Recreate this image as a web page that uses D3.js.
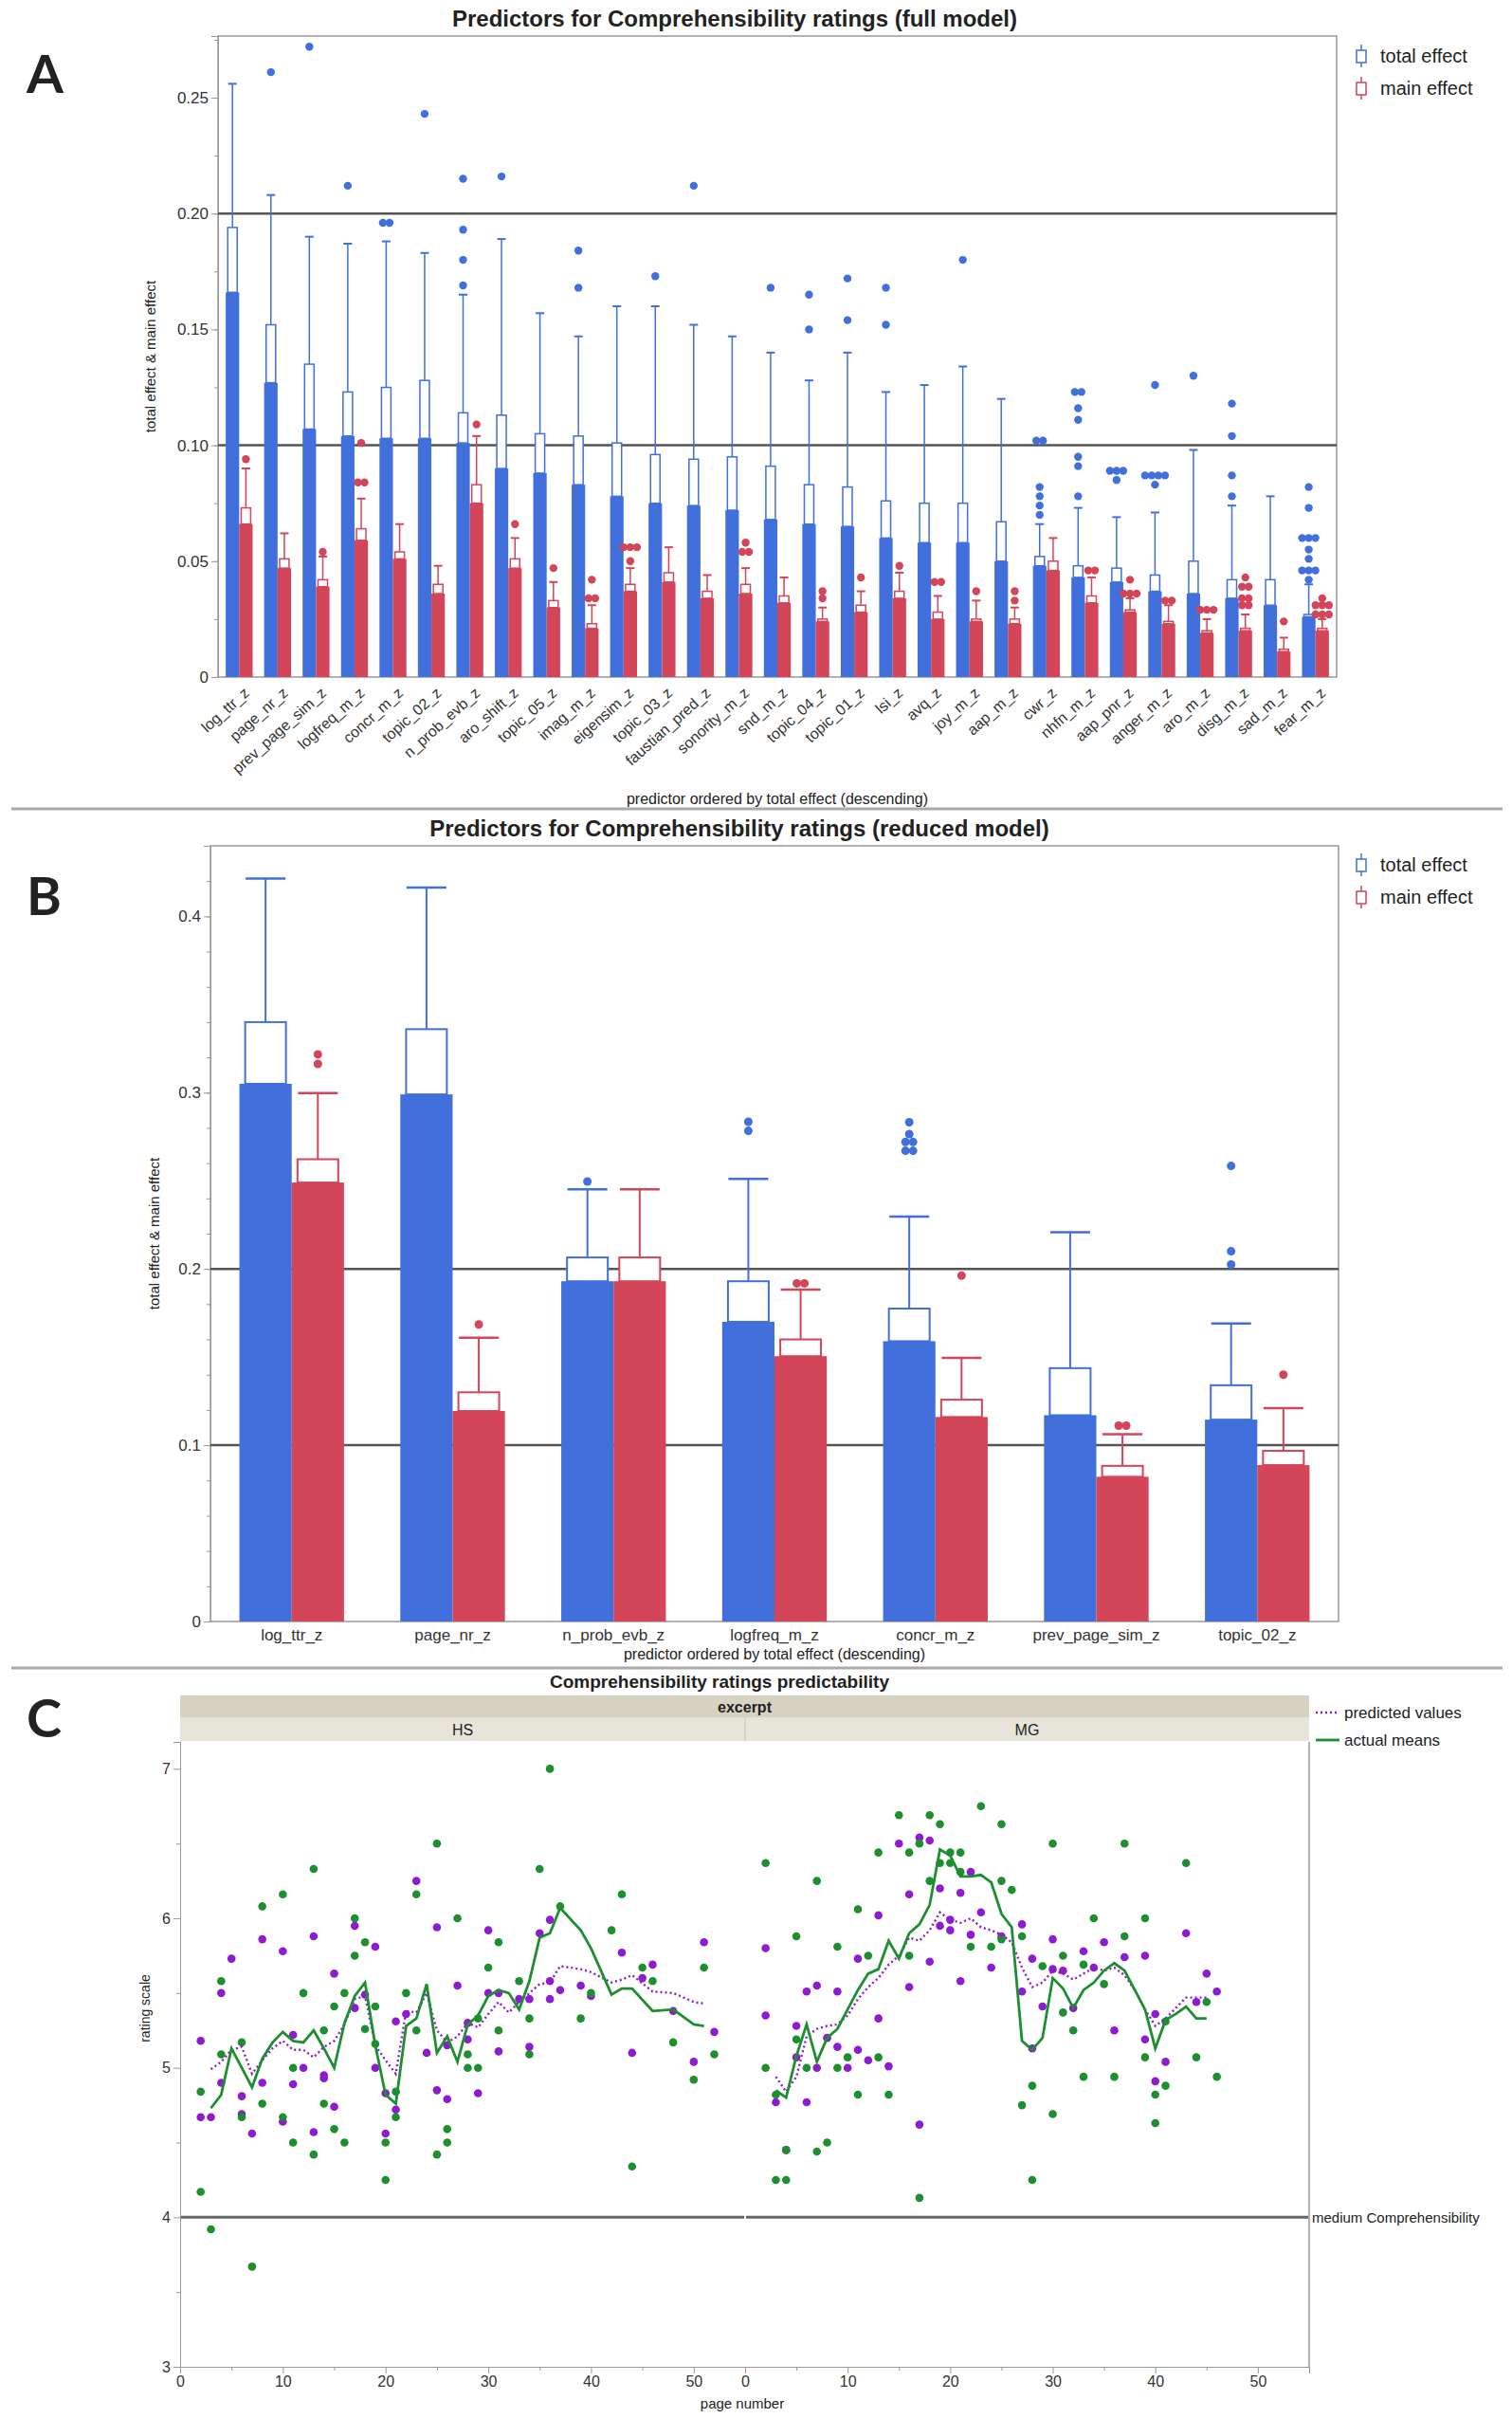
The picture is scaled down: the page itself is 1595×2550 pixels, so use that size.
<!DOCTYPE html>
<html>
<head>
<meta charset="utf-8">
<script src="https://cdn.jsdelivr.net/npm/d3@7"></script>
<style>
  body { margin: 0; background: #fff; }
  text { font-family: "Liberation Sans", Arial, sans-serif; fill: #222; }
  .axis path, .axis line { stroke: #999; }
  .axis text { fill: #333; font-family: "Liberation Sans", Arial, sans-serif; }
</style>
</head>
<body>
<svg id="chart" width="1595" height="2550"></svg>
<script>
// ---------- A: full model ----------
var predictorsA = ['log_ttr_z', 'page_nr_z', 'prev_page_sim_z', 'logfreq_m_z', 'concr_m_z', 'topic_02_z',
  'n_prob_evb_z', 'aro_shift_z', 'topic_05_z', 'imag_m_z', 'eigensim_z', 'topic_03_z', 'faustian_pred_z',
  'sonority_m_z', 'snd_m_z', 'topic_04_z', 'topic_01_z', 'lsi_z', 'avq_z', 'joy_m_z', 'aap_m_z', 'cwr_z',
  'nhfn_m_z', 'aap_pnr_z', 'anger_m_z', 'aro_m_z', 'disg_m_z', 'sad_m_z', 'fear_m_z'];
var totalBarA = [0.166, 0.127, 0.107, 0.104, 0.103, 0.103, 0.101, 0.090, 0.088, 0.083, 0.078, 0.075, 0.074,
  0.072, 0.068, 0.066, 0.065, 0.060, 0.058, 0.058, 0.050, 0.048, 0.043, 0.041, 0.037, 0.036, 0.034, 0.031, 0.026];
var totalBoxA = [0.194, 0.152, 0.135, 0.123, 0.125, 0.128, 0.114, 0.113, 0.105, 0.104, 0.101, 0.096, 0.094,
  0.095, 0.091, 0.083, 0.082, 0.076, 0.075, 0.075, 0.067, 0.052, 0.048, 0.047, 0.044, 0.050, 0.042, 0.042, 0.027];
var totalWhiskA = [0.256, 0.208, 0.190, 0.187, 0.188, 0.183, 0.165, 0.189, 0.157, 0.147, 0.160, 0.160, 0.152,
  0.147, 0.140, 0.128, 0.140, 0.123, 0.126, 0.134, 0.120, 0.066, 0.073, 0.069, 0.071, 0.098, 0.074, 0.078, 0.040];
var totalOutA = [[], [0.261], [0.272], [0.212], [0.196, 0.196], [0.243], [0.169, 0.180, 0.193, 0.215], [0.216],
  [], [0.168, 0.184], [], [0.173], [0.212], [], [0.168], [0.150, 0.165], [0.154, 0.172], [0.152, 0.168], [],
  [0.180], [], [0.070, 0.074, 0.078, 0.082, 0.102, 0.102], [0.078, 0.091, 0.095, 0.111, 0.116, 0.123, 0.123],
  [0.085, 0.089, 0.089, 0.089], [0.083, 0.087, 0.087, 0.087, 0.087, 0.126], [0.130], [0.078, 0.087, 0.104, 0.118],
  [], [0.042, 0.046, 0.046, 0.046, 0.051, 0.055, 0.060, 0.060, 0.060, 0.073, 0.082]];
var mainBarA = [0.066, 0.047, 0.039, 0.059, 0.051, 0.036, 0.075, 0.047, 0.030, 0.021, 0.037, 0.041, 0.034,
  0.036, 0.032, 0.024, 0.028, 0.034, 0.025, 0.024, 0.023, 0.046, 0.032, 0.028, 0.023, 0.019, 0.020, 0.011, 0.020];
var mainBoxA = [0.073, 0.051, 0.042, 0.064, 0.054, 0.040, 0.083, 0.051, 0.033, 0.023, 0.040, 0.045, 0.037,
  0.040, 0.035, 0.025, 0.031, 0.037, 0.028, 0.025, 0.025, 0.050, 0.035, 0.029, 0.024, 0.020, 0.021, 0.012, 0.021];
var mainWhiskA = [0.090, 0.062, 0.052, 0.077, 0.066, 0.048, 0.104, 0.060, 0.041, 0.031, 0.047, 0.056, 0.044,
  0.047, 0.043, 0.030, 0.037, 0.045, 0.035, 0.033, 0.030, 0.060, 0.043, 0.034, 0.031, 0.025, 0.027, 0.017, 0.025];
var mainOutA = [[0.094], [], [0.054], [0.084, 0.084, 0.101], [], [], [0.109], [0.066], [0.047],
  [0.034, 0.034, 0.042], [0.050, 0.056, 0.056, 0.056], [], [], [0.054, 0.054, 0.058], [], [0.034, 0.037], [0.043],
  [0.048], [0.041, 0.041], [0.037], [0.033, 0.037], [], [0.046, 0.046], [0.036, 0.036, 0.036, 0.042],
  [0.033, 0.033], [0.029, 0.029, 0.029], [0.031, 0.031, 0.034, 0.034, 0.039, 0.039, 0.043], [0.024],
  [0.027, 0.027, 0.027, 0.031, 0.031, 0.031, 0.034]];
var ticksA = [0, 0.05, 0.10, 0.15, 0.20, 0.25];

// ---------- B: reduced model ----------
var predictorsB = ['log_ttr_z', 'page_nr_z', 'n_prob_evb_z', 'logfreq_m_z', 'concr_m_z', 'prev_page_sim_z', 'topic_02_z'];
var totalBarB = [0.305, 0.299, 0.193, 0.170, 0.159, 0.117, 0.1145];
var totalBoxB = [0.340, 0.336, 0.2065, 0.193, 0.1775, 0.1437, 0.134];
var totalWhiskB = [0.4215, 0.4163, 0.2452, 0.251, 0.2297, 0.2208, 0.169];
var totalOutB = [[], [], [0.2496], [0.2783, 0.2835], [0.267, 0.267, 0.272, 0.272, 0.2765, 0.2832], [], [0.2025, 0.210, 0.2584]];
var mainBarB = [0.249, 0.1194, 0.193, 0.1505, 0.116, 0.0821, 0.0887];
var mainBoxB = [0.2622, 0.130, 0.2065, 0.160, 0.1258, 0.0883, 0.0968];
var mainWhiskB = [0.2998, 0.161, 0.2452, 0.1882, 0.1496, 0.1063, 0.121];
var mainOutB = [[0.3163, 0.3217], [0.1685], [], [0.1918, 0.1918], [0.1962], [0.1111, 0.1111], [0.140]];
var ticksB = [0, 0.1, 0.2, 0.3, 0.4];

// ---------- C: predictability ----------
var hsPredPoints = [[2,5.18],[2,4.67],[3,4.67],[4,5.5],[4,4.9],[5,5.73],[6,4.81],[6,4.69],[7,4.56],[8,5.86],[8,4.9],
  [10,5.78],[10,4.64],[11,5.22],[11,4.89],[12,5.0],[13,5.88],[13,4.57],[14,4.95],[14,4.93],[15,5.63],[15,4.74],
  [17,5.95],[17,5.4],[18,5.49],[19,5.81],[19,5.0],[20,4.83],[20,4.56],[21,5.31],[21,4.72],[22,5.36],[23,6.25],
  [24,5.1],[25,5.94],[25,4.85],[26,5.15],[26,4.79],[27,5.55],[28,5.3],[28,5.19],[29,4.83],[30,5.92],[30,5.5],
  [31,5.5],[31,5.11],[33,5.46],[34,5.46],[34,5.14],[35,5.9],[36,5.99],[36,5.58],[36,5.46],[37,5.52],[39,5.55],
  [40,5.48],[43,5.77],[44,5.1],[45,5.6],[46,5.69],[48,5.38],[50,5.04],[51,5.84],[52,5.24]];
var hsActPoints = [[2,4.84],[2,4.17],[3,3.92],[4,5.58],[4,5.09],[6,5.17],[6,4.67],[7,3.67],[8,6.08],[8,4.76],
  [10,6.16],[10,4.67],[11,5.0],[11,4.5],[12,5.5],[13,6.33],[13,4.42],[14,5.25],[14,4.76],[15,5.41],[15,4.59],
  [16,5.5],[16,4.5],[17,6.0],[17,5.75],[18,5.84],[18,5.26],[19,5.41],[19,5.16],[20,4.5],[20,4.25],[21,4.84],
  [21,4.67],[22,5.5],[23,6.16],[23,5.25],[25,6.5],[25,4.42],[26,4.59],[26,4.5],[27,6.0],[28,5.09],[28,5.0],
  [29,5.33],[29,5.0],[30,5.67],[31,5.84],[31,5.25],[33,5.58],[34,5.33],[34,5.09],[35,6.33],[36,7.0],[37,6.08],
  [39,5.33],[40,5.5],[42,5.92],[43,6.16],[44,4.34],[45,5.67],[46,5.58],[48,5.17],[50,4.92],[51,5.67],[52,5.09]];
var hsLinePages = [3,4,5,6,7,8,9,10,11,12,13,14,15,16,17,18,19,20,21,22,23,24,25,26,27,28,29,30,31,32,33,34,35,36,37,39,40,42,43,44,46,48,50,51];
var hsPredLine = [4.99,5.04,5.12,5.14,4.96,5.05,5.13,5.18,5.12,5.12,5.07,5.14,5.18,5.29,5.46,5.48,5.15,5.05,4.96,5.38,
  5.37,5.5,5.25,5.17,5.21,5.3,5.27,5.36,5.44,5.37,5.44,5.5,5.56,5.57,5.68,5.66,5.64,5.57,5.59,5.62,5.51,5.5,5.44,5.43];
var hsActLine = [4.73,4.82,5.13,5.0,4.87,5.06,5.17,5.24,5.18,5.17,5.25,5.13,5.0,5.3,5.48,5.57,5.15,4.82,4.76,5.28,
  5.33,5.56,5.1,5.21,5.04,5.29,5.35,5.48,5.52,5.5,5.39,5.58,5.87,5.9,6.07,5.92,5.8,5.49,5.53,5.53,5.38,5.39,5.29,5.28];
var mgPredPoints = [[2,5.8],[2,5.35],[3,4.77],[4,4.45],[5,5.28],[5,5.07],[6,5.51],[6,4.77],[7,5.55],[7,5.0],[8,5.2],
  [9,5.51],[9,5.14],[10,5.0],[11,5.73],[11,5.12],[12,5.05],[13,6.02],[13,5.33],[14,5.01],[15,6.5],[16,6.16],
  [16,5.54],[17,6.54],[17,4.62],[18,6.52],[18,5.71],[19,6.2],[19,5.95],[20,5.99],[20,5.92],[21,6.17],[21,5.58],
  [22,6.31],[22,5.89],[23,6.04],[24,5.67],[25,5.88],[27,5.96],[27,5.51],[28,5.73],[28,5.13],[29,5.41],[30,5.86],
  [30,5.66],[31,5.65],[32,5.4],[33,5.78],[34,5.67],[35,5.84],[36,5.25],[37,5.74],[39,5.75],[39,5.19],[40,5.36],
  [40,4.91],[41,5.04],[43,5.9],[44,5.44],[45,5.63],[46,5.51]];
var mgActPoints = [[2,6.37],[2,5.0],[3,4.82],[3,4.25],[4,4.45],[4,4.25],[5,5.88],[5,5.19],[6,5.0],[7,6.25],[7,4.44],
  [8,4.5],[9,5.81],[9,5.0],[10,5.07],[11,6.06],[11,4.82],[12,5.75],[13,6.44],[13,5.07],[14,4.82],[15,6.69],
  [16,6.44],[16,5.75],[17,6.5],[17,4.13],[18,6.69],[18,6.25],[19,6.63],[19,6.37],[20,6.44],[20,6.37],[21,6.44],
  [21,6.31],[22,5.81],[23,6.75],[24,5.81],[25,6.63],[25,6.25],[25,5.86],[26,6.19],[27,5.88],[27,4.75],[28,4.88],
  [28,4.25],[29,5.68],[30,6.5],[30,4.69],[31,5.75],[31,5.37],[32,5.25],[33,5.69],[33,4.94],[34,6.0],[35,5.56],
  [36,4.94],[37,6.5],[37,5.88],[39,6.0],[39,5.07],[40,4.82],[40,4.63],[41,5.31],[41,4.88],[43,6.37],[44,5.07],
  [45,5.44],[46,4.94]];
var mgLinePages = [3,4,5,6,7,8,9,10,11,12,13,14,15,16,17,18,19,20,21,22,23,24,25,26,27,28,29,30,31,32,33,34,35,36,37,38,39,40,41,42,43,44,45];
var mgPredLine = [4.94,4.84,4.94,5.21,5.26,5.28,5.29,5.35,5.46,5.54,5.6,5.69,5.75,5.87,5.85,5.92,6.04,5.99,5.97,6.0,
  5.94,5.92,5.89,5.84,5.67,5.54,5.57,5.65,5.63,5.59,5.63,5.67,5.65,5.67,5.62,5.52,5.39,5.28,5.33,5.4,5.47,5.47,5.47];
var mgActLine = [4.85,4.8,5.08,5.29,5.04,5.2,5.26,5.39,5.52,5.63,5.66,5.85,5.73,5.9,5.96,6.09,6.46,6.42,6.28,6.28,
  6.29,6.24,6.03,5.94,5.18,5.12,5.2,5.6,5.53,5.4,5.52,5.57,5.65,5.7,5.65,5.52,5.39,5.13,5.32,5.36,5.41,5.33,5.33];
var excerpts = ['HS', 'MG'];
var ticksC = [3, 4, 5, 6, 7];
var pageTicks = [0, 10, 20, 30, 40, 50];

var BLUE = '#416fdb', RED = '#d34558', PURPLE = '#8d1bd0', GREEN = '#1d8f2f';
var svg = d3.select('#chart');

// separators and panel letters
svg.selectAll('line.sep').data([853, 1759]).enter().append('line')
  .attr('x1', 12).attr('x2', 1585).attr('y1', d => d).attr('y2', d => d)
  .attr('stroke', '#aaa').attr('stroke-width', 3);
svg.selectAll('text.letter').data([['A', 98], ['B', 965], ['C', 1832]]).enter().append('text')
  .attr('x', 28).attr('y', d => d[1]).text(d => d[0])
  .style('font-family', 'Lato, "Open Sans", sans-serif').style('font-weight', 'bold').style('font-size', '56px');

function spread(vals) {
  // identical outlier values sit side by side
  var seen = {};
  var counts = {};
  vals.forEach(v => { counts[v] = (counts[v] || 0) + 1; });
  return vals.map(v => {
    var k = seen[v] || 0;
    seen[v] = k + 1;
    return { v: v, off: k - (counts[v] - 1) / 2 };
  });
}

function effectPanel(o) {
  var g = svg.append('g');
  var x = d3.scaleBand().domain(o.names).range([o.left, o.right])
    .paddingInner(o.padIn).paddingOuter(o.padOut);
  var sub = d3.scaleBand().domain([0, 1]).range([0, x.bandwidth()]);
  var y = d3.scaleLinear().domain([0, o.max]).range([o.bottom, o.top]);

  g.append('text').attr('x', o.titleX).attr('y', o.titleY).attr('text-anchor', 'middle')
    .style('font-size', '24px').style('font-weight', 'bold').text(o.title);

  // minor + major y ticks
  g.append('g').attr('class', 'axis').attr('transform', 'translate(' + o.left + ',0)')
    .call(d3.axisLeft(y).tickValues(d3.range(0, o.max, o.minor)).tickSize(4).tickFormat(''));
  g.append('g').attr('class', 'axis').attr('transform', 'translate(' + o.left + ',0)')
    .call(d3.axisLeft(y).tickValues(o.ticks).tickSize(7).tickFormat(o.fmt))
    .selectAll('text').style('font-size', '17px');

  g.append('rect').attr('x', o.left).attr('y', o.top).attr('width', o.right - o.left)
    .attr('height', o.bottom - o.top).attr('fill', 'none').attr('stroke', '#999').attr('stroke-width', 1.5);

  g.selectAll('line.ref').data(o.refs).enter().append('line')
    .attr('x1', o.left).attr('x2', o.right).attr('y1', d => y(d)).attr('y2', d => y(d))
    .attr('stroke', '#555').attr('stroke-width', 2.5);

  var bw = sub.bandwidth();
  o.series.forEach(function(s, si) {
    var cx = d => x(d) + sub(si) + bw / 2;
    var sg = g.append('g');
    sg.selectAll('line.wh').data(o.names).enter().append('line')
      .attr('x1', cx).attr('x2', cx)
      .attr('y1', (d, i) => y(s.box[i])).attr('y2', (d, i) => y(s.whisk[i]))
      .attr('stroke', s.color).attr('stroke-width', o.lw);
    sg.selectAll('line.cap').data(o.names).enter().append('line')
      .attr('x1', d => cx(d) - o.capW / 2).attr('x2', d => cx(d) + o.capW / 2)
      .attr('y1', (d, i) => y(s.whisk[i])).attr('y2', (d, i) => y(s.whisk[i]))
      .attr('stroke', s.color).attr('stroke-width', o.lw + 0.5);
    sg.selectAll('rect.bar').data(o.names).enter().append('rect')
      .attr('x', d => x(d) + sub(si)).attr('width', bw)
      .attr('y', (d, i) => y(s.bar[i])).attr('height', (d, i) => y(0) - y(s.bar[i]))
      .attr('fill', s.color);
    sg.selectAll('rect.box').data(o.names).enter().append('rect')
      .attr('x', d => cx(d) - o.boxW / 2).attr('width', o.boxW)
      .attr('y', (d, i) => y(s.box[i])).attr('height', (d, i) => y(s.bar[i]) - y(s.box[i]))
      .attr('fill', '#fff').attr('stroke', s.color).attr('stroke-width', o.lw);
    o.names.forEach(function(d, i) {
      sg.selectAll(null).data(spread(s.out[i])).enter().append('circle')
        .attr('cx', p => cx(d) + p.off * o.dotGap).attr('cy', p => y(p.v))
        .attr('r', o.r).attr('fill', s.color);
    });
  });

  // category axis
  var xa = g.append('g').attr('class', 'axis').attr('transform', 'translate(0,' + o.bottom + ')')
    .call(d3.axisBottom(x).tickSize(0).tickPadding(8));
  xa.select('.domain').remove();
  xa.selectAll('text').style('font-size', '17px');
  if (o.rotate) {
    xa.selectAll('text').attr('y', 0).attr('dy', '0.35em').style('text-anchor', 'end')
      .attr('transform', 'translate(8,14) rotate(-42)').style('font-size', '16px');
  }

  g.append('text').attr('x', (o.left + o.right) / 2).attr('y', o.xLabelY).attr('text-anchor', 'middle')
    .style('font-size', '16px').text('predictor ordered by total effect (descending)');
  g.append('text').attr('transform', 'translate(' + o.yLabelX + ',' + ((o.top + o.bottom) / 2) + ') rotate(-90)')
    .attr('text-anchor', 'middle').style('font-size', '15px').text('total effect & main effect');

  // legend
  var lg = g.append('g').attr('transform', 'translate(1436,' + o.legendY + ')');
  [['total effect', BLUE], ['main effect', RED]].forEach(function(l, i) {
    var row = lg.append('g').attr('transform', 'translate(0,' + i * 34 + ')');
    row.append('line').attr('x1', 0).attr('x2', 0).attr('y1', -12).attr('y2', 12)
      .attr('stroke', l[1]).attr('stroke-width', 1.5);
    row.append('rect').attr('x', -5).attr('y', -6).attr('width', 10).attr('height', 13)
      .attr('fill', '#fff').attr('stroke', l[1]).attr('stroke-width', 1.5);
    row.append('text').attr('x', 20).attr('y', 0).attr('dy', '0.35em')
      .style('font-size', '20px').text(l[0]);
  });
}

effectPanel({
  names: predictorsA, left: 230, right: 1410, top: 38, bottom: 714, max: 0.2766,
  padIn: 0.3, padOut: 0.2, minor: 0.025, ticks: ticksA,
  fmt: d => d === 0 ? '0' : d3.format('.2f')(d), refs: [0.1, 0.2],
  series: [
    { color: BLUE, bar: totalBarA, box: totalBoxA, whisk: totalWhiskA, out: totalOutA },
    { color: RED, bar: mainBarA, box: mainBoxA, whisk: mainWhiskA, out: mainOutA }
  ],
  lw: 1.5, capW: 9, boxW: 10, r: 4.2, dotGap: 7, rotate: true,
  title: 'Predictors for Comprehensibility ratings (full model)', titleX: 775, titleY: 28,
  xLabelY: 848, yLabelX: 164, legendY: 59
});

effectPanel({
  names: predictorsB, left: 222, right: 1412, top: 892, bottom: 1710, max: 0.44,
  padIn: 0.35, padOut: 0.18, minor: 0.02, ticks: ticksB,
  fmt: d => d === 0 ? '0' : d3.format('.1f')(d), refs: [0.1, 0.2],
  series: [
    { color: BLUE, bar: totalBarB, box: totalBoxB, whisk: totalWhiskB, out: totalOutB },
    { color: RED, bar: mainBarB, box: mainBoxB, whisk: mainWhiskB, out: mainOutB }
  ],
  lw: 2, capW: 42, boxW: 43, r: 4.5, dotGap: 8, rotate: false,
  title: 'Predictors for Comprehensibility ratings (reduced model)', titleX: 780, titleY: 882,
  xLabelY: 1750, yLabelX: 168, legendY: 912
});

// ---------- panel C ----------
(function() {
  var left = 190, mid = 786, right = 1381, top = 1837, bottom = 2496;
  var g = svg.append('g');
  var y = d3.scaleLinear().domain([3, 7.18]).range([bottom, top]);
  var xs = {
    HS: d3.scaleLinear().domain([0, 55]).range([left, mid]),
    MG: d3.scaleLinear().domain([0, 55]).range([mid, right])
  };

  g.append('text').attr('x', 759).attr('y', 1780).attr('text-anchor', 'middle')
    .style('font-size', '19px').style('font-weight', 'bold').text('Comprehensibility ratings predictability');

  g.append('rect').attr('x', left).attr('y', 1788).attr('width', right - left).attr('height', 23).attr('fill', '#d6d3c3');
  g.append('rect').attr('x', left).attr('y', 1811).attr('width', right - left).attr('height', 25).attr('fill', '#e7e5da');
  g.append('line').attr('x1', mid).attr('x2', mid).attr('y1', 1811).attr('y2', 1836).attr('stroke', '#c4c2b4');
  g.append('text').attr('x', (left + right) / 2).attr('y', 1800).attr('dy', '0.35em').attr('text-anchor', 'middle')
    .style('font-size', '16px').style('font-weight', 'bold').text('excerpt');
  excerpts.forEach(function(e) {
    g.append('text').attr('x', (xs[e].range()[0] + xs[e].range()[1]) / 2).attr('y', 1824).attr('dy', '0.35em')
      .attr('text-anchor', 'middle').style('font-size', '16px').text(e);
  });

  g.append('g').attr('class', 'axis').attr('transform', 'translate(' + left + ',0)')
    .call(d3.axisLeft(y).tickValues([3.5, 4.5, 5.5, 6.5]).tickSize(4).tickFormat(''));
  g.append('g').attr('class', 'axis').attr('transform', 'translate(' + left + ',0)')
    .call(d3.axisLeft(y).tickValues(ticksC).tickSize(7).tickFormat(d3.format('d')))
    .selectAll('text').style('font-size', '16px');
  g.append('line').attr('x1', right).attr('x2', right).attr('y1', top).attr('y2', bottom)
    .attr('stroke', '#999').attr('stroke-width', 1.5);

  excerpts.forEach(function(e) {
    var x = xs[e];
    g.append('g').attr('class', 'axis').attr('transform', 'translate(0,' + bottom + ')')
      .call(d3.axisBottom(x).tickValues([5, 15, 25, 35, 45, 55]).tickSize(4).tickFormat(''));
    g.append('g').attr('class', 'axis').attr('transform', 'translate(0,' + bottom + ')')
      .call(d3.axisBottom(x).tickValues(pageTicks).tickSize(7).tickFormat(d3.format('d')))
      .selectAll('text').style('font-size', '16px');
    g.append('line').attr('x1', x(0) + 1).attr('x2', x(55) - 1).attr('y1', y(4)).attr('y2', y(4))
      .attr('stroke', '#666').attr('stroke-width', 3);
  });

  g.append('text').attr('x', right + 3).attr('y', y(4)).attr('dy', '0.35em')
    .style('font-size', '15px').text('medium Comprehensibility');
  g.append('text').attr('x', 783).attr('y', 2540).attr('text-anchor', 'middle')
    .style('font-size', '15px').text('page number');
  g.append('text').attr('transform', 'translate(158,2118) rotate(-90)').attr('text-anchor', 'middle')
    .style('font-size', '14px').text('rating scale');

  var sets = [
    { x: xs.HS, pred: hsPredPoints, act: hsActPoints, pages: hsLinePages, pl: hsPredLine, al: hsActLine },
    { x: xs.MG, pred: mgPredPoints, act: mgActPoints, pages: mgLinePages, pl: mgPredLine, al: mgActLine }
  ];
  sets.forEach(function(s) {
    g.selectAll(null).data(s.pred).enter().append('circle')
      .attr('cx', d => s.x(d[0])).attr('cy', d => y(d[1])).attr('r', 4.3).attr('fill', PURPLE);
    g.selectAll(null).data(s.act).enter().append('circle')
      .attr('cx', d => s.x(d[0])).attr('cy', d => y(d[1])).attr('r', 4.3).attr('fill', GREEN);
    var line = d3.line().x((d, i) => s.x(s.pages[i])).y(d => y(d));
    g.append('path').attr('d', line(s.pl)).attr('fill', 'none').attr('stroke', PURPLE)
      .attr('stroke-width', 2.4).attr('stroke-dasharray', '2,3');
    g.append('path').attr('d', line(s.al)).attr('fill', 'none').attr('stroke', GREEN).attr('stroke-width', 2.8);
  });

  var lg = g.append('g').attr('transform', 'translate(1388,1806)');
  lg.append('line').attr('x1', 0).attr('x2', 25).attr('y1', 0).attr('y2', 0)
    .attr('stroke', PURPLE).attr('stroke-width', 2.4).attr('stroke-dasharray', '2,3');
  lg.append('text').attr('x', 30).attr('y', 0).attr('dy', '0.35em').style('font-size', '17px').text('predicted values');
  lg.append('line').attr('x1', 0).attr('x2', 25).attr('y1', 29).attr('y2', 29)
    .attr('stroke', GREEN).attr('stroke-width', 2.8);
  lg.append('text').attr('x', 30).attr('y', 29).attr('dy', '0.35em').style('font-size', '17px').text('actual means');
})();
</script>
</body>
</html>
